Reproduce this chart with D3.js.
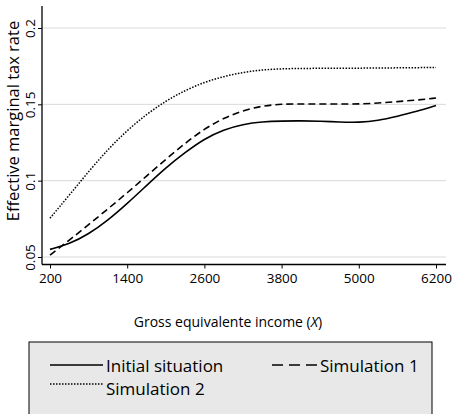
<!DOCTYPE html>
<html>
<head>
<meta charset="utf-8">
<script src="https://cdn.jsdelivr.net/npm/d3@7"></script>
<style>
  body { margin: 0; background: #fff; }
  svg { display: block; font-family: "Open Sans", sans-serif; }
</style>
</head>
<body>
<svg id="chart"></svg>
<script>
"use strict";
// income grid (gross equivalente income)
var income = [200, 500, 800, 1100, 1400, 1700, 2000, 2300, 2600, 2900, 3200, 3500,
              3800, 4100, 4400, 4700, 5000, 5300, 5600, 5900, 6200];
var initialSituation = [0.0550, 0.0585, 0.0650, 0.0740, 0.0850, 0.0968, 0.1085, 0.1185, 0.1275, 0.1335, 0.1370, 0.1386,
                        0.1391, 0.1392, 0.1390, 0.1384, 0.1381, 0.1393, 0.1422, 0.1453, 0.1492];
var simulation1 = [0.0513, 0.0610, 0.0712, 0.0815, 0.0920, 0.1030, 0.1140, 0.1245, 0.1340, 0.1410, 0.1460, 0.1490,
                   0.1502, 0.1503, 0.1502, 0.1502, 0.1502, 0.1508, 0.1518, 0.1528, 0.1541];
var simulation2 = [0.0754, 0.0905, 0.1060, 0.1205, 0.1330, 0.1435, 0.1522, 0.1592, 0.1645, 0.1683, 0.1710, 0.1726,
                   0.1733, 0.1735, 0.1736, 0.1736, 0.1737, 0.1738, 0.1739, 0.1740, 0.1742];
var xTicks = [200, 1400, 2600, 3800, 5000, 6200];
var yTicks = [0.05, 0.1, 0.15, 0.2];
var seriesNames = ["Initial situation", "Simulation 1", "Simulation 2"];

var width = 453, height = 414;
var svg = d3.select("#chart").attr("width", width).attr("height", height);

var x = d3.scaleLinear().domain([200, 6200]).range([50, 436]);
var y = d3.scaleLinear().domain([0.05, 0.2]).range([257, 28]);
var plotLeft = 42, plotRight = 446, plotTop = 6, plotBottom = 264.5;

// gridlines
svg.append("g").selectAll("line").data(yTicks).enter().append("line")
  .attr("x1", plotLeft).attr("x2", plotRight)
  .attr("y1", function(d) { return y(d); })
  .attr("y2", function(d) { return y(d); })
  .attr("stroke", "#d9d9d9").attr("stroke-width", 1);

// axes
var xAxis = svg.append("g").attr("transform", "translate(0," + plotBottom + ")")
  .call(d3.axisBottom(x).tickValues(xTicks).tickSize(4).tickPadding(5).tickFormat(d3.format("d")));
xAxis.select(".domain").attr("d", "M" + plotLeft + ",0H" + plotRight);
var yAxis = svg.append("g").attr("transform", "translate(" + plotLeft + ",0)")
  .call(d3.axisLeft(y).tickValues(yTicks).tickSize(4).tickFormat(function(d) { return String(+d.toFixed(2)); }));
yAxis.select(".domain").attr("d", "M0," + plotTop + "V" + plotBottom);
svg.selectAll(".domain").attr("stroke", "#000").attr("stroke-width", 1.3);
svg.selectAll(".tick line").attr("stroke", "#000").attr("stroke-width", 1);
xAxis.selectAll("text").attr("font-size", 13.5).attr("fill", "#000").attr("font-family", "Open Sans");
yAxis.selectAll("text").attr("font-size", 13.5).attr("fill", "#000").attr("font-family", "Open Sans")
  .attr("x", 0).attr("y", 0).attr("dy", null)
  .attr("text-anchor", "middle")
  .attr("transform", "translate(-7,0) rotate(-90)");

// titles
svg.append("text").attr("x", 228).attr("y", 327).attr("text-anchor", "middle")
  .attr("font-size", 14).attr("fill", "#000")
  .html('Gross equivalente income (<tspan font-style="italic">X</tspan>)');
svg.append("text").attr("transform", "translate(19,121) rotate(-90)").attr("text-anchor", "middle")
  .attr("font-size", 16.5).attr("fill", "#000").text("Effective marginal tax rate");

// lines
var styles = [
  { data: initialSituation, dash: null, legendDash: null, w: 1.6 },
  { data: simulation1, dash: "7,4", legendDash: "11,6", w: 1.6 },
  { data: simulation2, dash: "1.5,1.5", legendDash: "1.5,1.5", w: 1.5 }
];
var line = d3.line().x(function(d) { return x(d[0]); }).y(function(d) { return y(d[1]); })
  .curve(d3.curveBasis);
styles.forEach(function(s) {
  svg.append("path").datum(d3.zip(income, s.data))
    .attr("d", line).attr("fill", "none").attr("stroke", "#000")
    .attr("stroke-width", s.w).attr("stroke-dasharray", s.dash);
});

// legend
var legend = svg.append("g");
legend.append("rect").attr("x", 29).attr("y", 342).attr("width", 403).attr("height", 90)
  .attr("fill", "#e8e8e8").attr("stroke", "#000").attr("stroke-width", 1);
var legendItems = [
  { name: seriesNames[0], x1: 50, x2: 103, ly: 365, ty: 372, tx: 106, style: styles[0] },
  { name: seriesNames[1], x1: 272, x2: 317, ly: 365, ty: 372, tx: 320, style: styles[1] },
  { name: seriesNames[2], x1: 50, x2: 103, ly: 384, ty: 395, tx: 106, style: styles[2] }
];
legendItems.forEach(function(it) {
  legend.append("line").attr("x1", it.x1).attr("x2", it.x2).attr("y1", it.ly).attr("y2", it.ly)
    .attr("stroke", "#000").attr("stroke-width", it.style.w).attr("stroke-dasharray", it.style.legendDash);
  legend.append("text").attr("x", it.tx).attr("y", it.ty).attr("font-size", 17).attr("fill", "#000")
    .text(it.name);
});
</script>
</body>
</html>
